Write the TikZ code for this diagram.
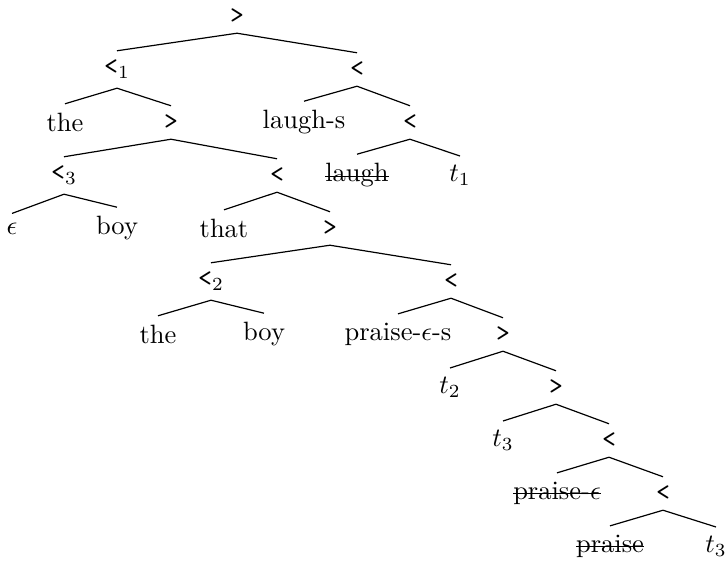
\documentclass[tikz,border=0pt]{standalone}
\newcommand{\mystrike}[1]{\setbox0\hbox{#1}\rlap{\rule[0.45ex]{\wd0}{0.4pt}}\box0}
\newcommand{\mygt}{\texttt{>}}
\newcommand{\mylt}{\texttt{<}}
\begin{document}
\begin{tikzpicture}[x=0.3774pt,y=-0.3774pt,
  tn/.style={inner sep=.3333em},
  edge/.style={line width=0.45pt}]
\useasboundingbox (0,0) rectangle (727,562);
% level 0
\node[tn] (r) at (237,16.5) {\mygt};
% level 1
\node[tn] (a) at (117,69.5) {\mylt$_1$};
\node[tn] (b) at (357,69.5) {\mylt};
% level 2
\node[tn] (a1) at (65,122.5) {the};
\node[tn] (a2) at (171,122.5) {\mygt};
\node[tn] (b1) at (304,122.5) {laugh-s};
\node[tn] (b2) at (410,122.5) {\mylt};
% level 3
\node[tn] (a21) at (64,175.5) {\mylt$_3$};
\node[tn] (a22) at (277,175.5) {\mylt};
\node[tn] (b21) at (357,175.5) {\mystrike{laugh}};
\node[tn] (b22) at (460,175.5) {$t_1$};
% level 4
\node[tn] (a211) at (12,228.5) {$\epsilon$};
\node[tn] (a212) at (117,228.5) {boy};
\node[tn] (a221) at (224,228.5) {that};
\node[tn] (a222) at (330,228.5) {\mygt};
% level 5
\node[tn] (c1) at (211,281.5) {\mylt$_2$};
\node[tn] (c2) at (451,281.5) {\mylt};
% level 6
\node[tn] (c11) at (158,334.5) {the};
\node[tn] (c12) at (264,334.5) {boy};
\node[tn] (c21) at (398,334.5) {praise-$\epsilon$-s};
\node[tn] (c22) at (503,334.5) {\mygt};
% level 7
\node[tn] (d1) at (450,387.5) {$t_2$};
\node[tn] (d2) at (556,387.5) {\mygt};
% level 8
\node[tn] (e1) at (503,440.5) {$t_3$};
\node[tn] (e2) at (609,440.5) {\mylt};
% level 9
\node[tn] (f1) at (557,493.5) {\mystrike{praise-$\epsilon$}};
\node[tn] (f2) at (663,493.5) {\mylt};
% level 10
\node[tn] (g1) at (610,546.5) {\mystrike{praise}};
\node[tn] (g2) at (716,546.5) {$t_3$};
% edges
\draw[edge] (a.north) -- (r.south) -- (b.north);
\draw[edge] (a1.north) -- (a.south) -- (a2.north);
\draw[edge] (b1.north) -- (b.south) -- (b2.north);
\draw[edge] (a21.north) -- (a2.south) -- (a22.north);
\draw[edge] (b21.north) -- (b2.south) -- (b22.north);
\draw[edge] (a211.north) -- (a21.south) -- (a212.north);
\draw[edge] (a221.north) -- (a22.south) -- (a222.north);
\draw[edge] (c1.north) -- (a222.south) -- (c2.north);
\draw[edge] (c11.north) -- (c1.south) -- (c12.north);
\draw[edge] (c21.north) -- (c2.south) -- (c22.north);
\draw[edge] (d1.north) -- (c22.south) -- (d2.north);
\draw[edge] (e1.north) -- (d2.south) -- (e2.north);
\draw[edge] (f1.north) -- (e2.south) -- (f2.north);
\draw[edge] (g1.north) -- (f2.south) -- (g2.north);
\end{tikzpicture}
\end{document}
